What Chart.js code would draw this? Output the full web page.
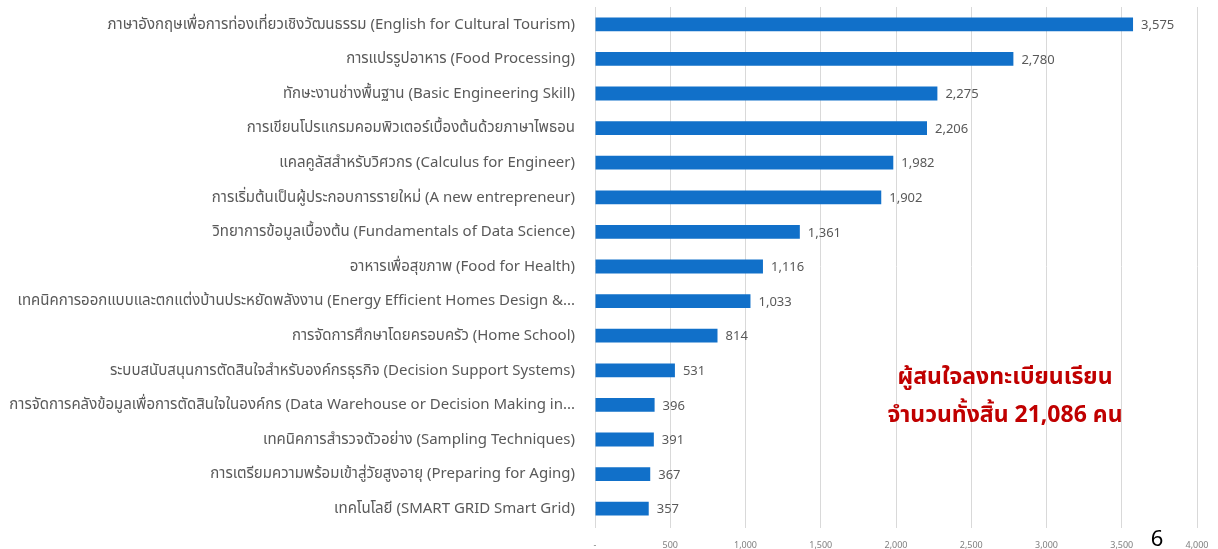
<!DOCTYPE html>
<html><head><meta charset="utf-8">
<script src="https://cdn.jsdelivr.net/npm/chart.js@4/dist/chart.umd.min.js"></script>
<style>html,body{margin:0;padding:0;background:#fff;}#wrap{width:1218px;height:549px;position:relative;}</style>
</head><body><div id="wrap"><canvas id="c" width="1218" height="549"></canvas></div>
<script>
const categories = [
  "ภาษาอังกฤษเพื่อการท่องเที่ยวเชิงวัฒนธรรม (English for Cultural Tourism)",
  "การแปรรูปอาหาร (Food Processing)",
  "ทักษะงานช่างพื้นฐาน (Basic Engineering Skill)",
  "การเขียนโปรแกรมคอมพิวเตอร์เบื้องต้นด้วยภาษาไพธอน",
  "แคลคูลัสสำหรับวิศวกร (Calculus for Engineer)",
  "การเริ่มต้นเป็นผู้ประกอบการรายใหม่ (A new entrepreneur)",
  "วิทยาการข้อมูลเบื้องต้น (Fundamentals of Data Science)",
  "อาหารเพื่อสุขภาพ (Food for Health)",
  "เทคนิคการออกแบบและตกแต่งบ้านประหยัดพลังงาน (Energy Efficient Homes Design &...",
  "การจัดการศึกษาโดยครอบครัว (Home School)",
  "ระบบสนับสนุนการตัดสินใจสำหรับองค์กรธุรกิจ (Decision Support Systems)",
  "การจัดการคลังข้อมูลเพื่อการตัดสินใจในองค์กร (Data Warehouse or Decision Making in...",
  "เทคนิคการสำรวจตัวอย่าง (Sampling Techniques)",
  "การเตรียมความพร้อมเข้าสู่วัยสูงอายุ (Preparing for Aging)",
  "เทคโนโลยี (SMART GRID Smart Grid)"
];
const enrolled = [3575, 2780, 2275, 2206, 1982, 1902, 1361, 1116, 1033, 814, 531, 396, 391, 367, 357];
const xTicks = [0, 500, 1000, 1500, 2000, 2500, 3000, 3500, 4000];
const noteLines = ["ผู้สนใจลงทะเบียนเรียน", "จำนวนทั้งสิ้น 21,086 คน"];
const pageNumber = "6";

const fontFam = "'Noto Sans', 'Noto Sans Thai', Tahoma, sans-serif";
const fmt = v => v === 0 ? "-" : v.toLocaleString("en-US");

const valueLabels = {
  id: "valueLabels",
  afterDatasetsDraw(chart) {
    const ctx = chart.ctx;
    const meta = chart.getDatasetMeta(0);
    ctx.save();
    ctx.font = "13px " + fontFam;
    ctx.fillStyle = "#595959";
    ctx.textAlign = "left";
    ctx.textBaseline = "middle";
    meta.data.forEach((bar, i) => {
      ctx.fillText(fmt(enrolled[i]), bar.x + 8, bar.y + 1);
    });
    ctx.restore();
  }
};
const notes = {
  id: "notes",
  afterDraw(chart) {
    const ctx = chart.ctx;
    ctx.save();
    ctx.font = "bold 23px " + fontFam;
    ctx.fillStyle = "#c00000";
    ctx.textAlign = "center";
    ctx.textBaseline = "middle";
    ctx.fillText(noteLines[0], 1005, 377);
    ctx.fillText(noteLines[1], 1005, 415);
    ctx.font = "22px " + fontFam;
    ctx.fillStyle = "#000";
    ctx.fillText(pageNumber, 1157, 540);
    ctx.restore();
  }
};

new Chart(document.getElementById("c"), {
  type: "bar",
  data: {
    labels: categories,
    datasets: [{
      data: enrolled,
      backgroundColor: "#1170c9",
      borderWidth: 0,
      barPercentage: 0.4,
      categoryPercentage: 1.0
    }]
  },
  options: {
    indexAxis: "y",
    responsive: false,
    animation: false,
    layout: { padding: { top: 7, right: 21, left: 0, bottom: 0 } },
    plugins: { legend: { display: false }, tooltip: { enabled: false } },
    scales: {
      x: {
        min: 0, max: 4000,
        afterBuildTicks(scale) { scale.ticks = xTicks.map(v => ({ value: v })); },
        afterFit(scale) { scale.height = 23; scale.paddingLeft = 0; scale.paddingRight = 0; },
        grid: { color: "#d9d9d9", drawTicks: true, tickLength: 2, tickColor: "#d9d9d9" },
        border: { display: false },
        ticks: {
          padding: 12,
          color: "#7f7f7f",
          font: { size: 9, family: fontFam },
          callback: v => fmt(v)
        }
      },
      y: {
        afterFit(scale) { scale.width = 595; scale.paddingTop = 0; scale.paddingBottom = 0; },
        grid: { display: false },
        border: { display: false },
        ticks: {
          padding: 12,
          color: "#595959",
          font: { size: 15, family: fontFam },
          autoSkip: false
        }
      }
    }
  },
  plugins: [valueLabels, notes]
});
</script>
</body></html>
